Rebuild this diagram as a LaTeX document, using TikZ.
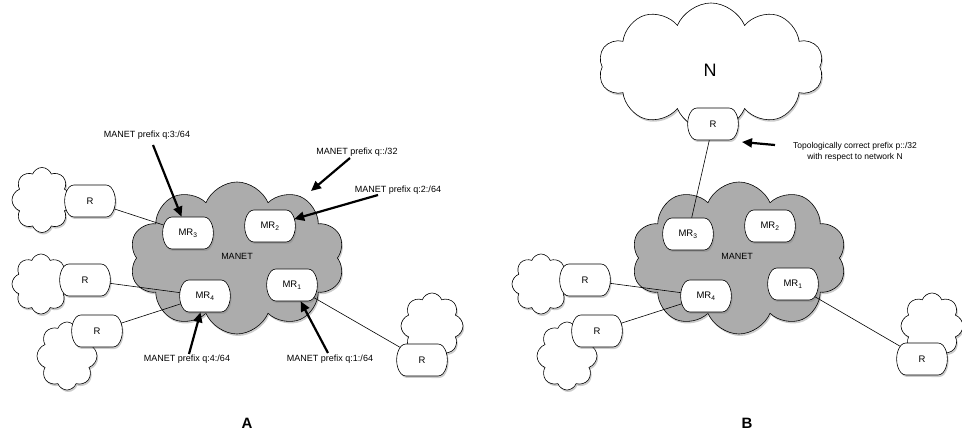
\documentclass[tikz,border=0pt]{standalone}
\usepackage{fontspec}
\setmainfont{Liberation Sans}
\usetikzlibrary{shapes.symbols,shapes.misc,shadows,arrows.meta}
\definecolor{manetgray}{RGB}{172,172,172}
\begin{document}
\begin{tikzpicture}[x=1pt,y=-1pt,
  shad/.style={drop shadow={opacity=0.4,shadow xshift=1.2pt,shadow yshift=-2pt}},
  rbox/.style={draw,rounded rectangle,rounded rectangle arc length=80,rounded corners=3pt,
    minimum width=48pt,minimum height=32pt,inner sep=1pt,fill=white,shad,
    font=\fontsize{9.5}{11}\selectfont,line width=0.6pt},
  smallcloud/.style={draw,cloud,cloud puffs=8,cloud puff arc=140,fill=white,shad,
    inner sep=0pt,line width=0.6pt},
  bigcloud/.style={draw,cloud,cloud puffs=10,cloud puff arc=135,shad,
    inner sep=0pt,line width=0.6pt},
  link/.style={line width=0.6pt},
  arr/.style={line width=2.2pt,-{Triangle[length=10pt,width=9pt]}},
  lbl/.style={font=\fontsize{9}{11}\selectfont,inner sep=1pt},
  panel/.style={font=\bfseries\fontsize{15}{17}\selectfont}
]
\useasboundingbox (0,0) rectangle (962,435);

% ---------- Panel A ----------
\node[smallcloud,minimum width=60pt,minimum height=65pt] (cA1) at (42,200) {};
\node[smallcloud,minimum width=58pt,minimum height=60pt] (cA2) at (41,284) {};
\node[smallcloud,minimum width=60pt,minimum height=68pt] (cA3) at (67,356) {};
\node[smallcloud,minimum width=62pt,minimum height=66pt] (cA4) at (432,326) {};
\node[bigcloud,fill=manetgray,minimum width=215pt,minimum height=152pt] (manetA) at (237,258) {};
\node[lbl] (mlA) at (237,256) {MANET};

\node[rbox] (rA1) at (90,201) {R};
\node[rbox] (rA2) at (85,280) {R};
\node[rbox] (rA3) at (97,331) {R};
\node[rbox] (rA4) at (422,360) {R};
\node[rbox] (mr3A) at (188,233) {MR\textsubscript{3}};
\node[rbox] (mr2A) at (270,226) {MR\textsubscript{2}};
\node[rbox] (mr4A) at (205,296) {MR\textsubscript{4}};
\node[rbox] (mr1A) at (292,285) {MR\textsubscript{1}};

\draw[link] (rA1) -- (mr3A);
\draw[link] (rA2) -- (mr4A);
\draw[link] (rA3) -- (mr4A);
\draw[link] (mr1A) -- (rA4);

\node[lbl] (t3) at (147,135) {MANET prefix q:3:/64};
\node[lbl] (t32) at (357,152) {MANET prefix q::/32};
\node[lbl] (t2) at (398,190) {MANET prefix q:2:/64};
\node[lbl] (t4) at (187,359) {MANET prefix q:4:/64};
\node[lbl] (t1) at (330,359) {MANET prefix q:1:/64};

\coordinate (s3) at (153,145);
\coordinate (s32) at (350,158);
\coordinate (tip32) at (311,191);
\coordinate (s2) at (378,195);
\coordinate (s4) at (189,354);
\coordinate (s1) at (328,353);
\draw[arr] (s3) -- (mr3A);
\draw[arr] (s32) -- (tip32);
\draw[arr] (s2) -- (mr2A);
\draw[arr] (s4) -- (mr4A);
\draw[arr] (s1) -- (mr1A);

\node[panel] (pA) at (247,423) {A};

% ---------- Panel B ----------
\node[bigcloud,fill=white,minimum width=225pt,minimum height=128pt] (cN) at (711,67) {};
\node[font=\fontsize{18}{20}\selectfont] (nN) at (710,70) {N};
\node[smallcloud,minimum width=58pt,minimum height=60pt] (cB2) at (541,284) {};
\node[smallcloud,minimum width=60pt,minimum height=68pt] (cB3) at (567,356) {};
\node[smallcloud,minimum width=62pt,minimum height=66pt] (cB4) at (932,326) {};
\node[bigcloud,fill=manetgray,minimum width=215pt,minimum height=152pt] (manetB) at (739,258) {};
\node[lbl] (mlB) at (737,256) {MANET};

\node[rbox] (rN) at (713,124) {R};
\node[rbox] (rB2) at (585,280) {R};
\node[rbox] (rB3) at (597,331) {R};
\node[rbox] (rB4) at (922,359) {R};
\node[rbox] (mr3B) at (688,234) {MR\textsubscript{3}};
\node[rbox] (mr2B) at (770,226) {MR\textsubscript{2}};
\node[rbox] (mr4B) at (706,296) {MR\textsubscript{4}};
\node[rbox] (mr1B) at (793,284) {MR\textsubscript{1}};

\draw[link] (rN) -- (mr3B);
\draw[link] (rB2) -- (mr4B);
\draw[link] (rB3) -- (mr4B);
\draw[link] (mr1B) -- (rB4);

\node[lbl,align=center,font=\fontsize{8.5}{10.5}\selectfont] (tN) at (855,152)
  {Topologically correct prefix p::/32\\with respect to network N};
\coordinate (sN) at (775,145);
\coordinate (tipN) at (742,142);
\draw[arr] (sN) -- (tipN);

\node[panel] (pB) at (747,423) {B};
\end{tikzpicture}
\end{document}
